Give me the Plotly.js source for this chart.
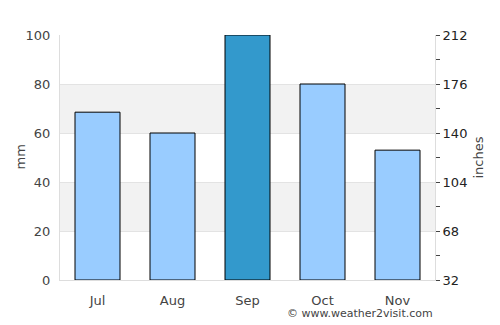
<!DOCTYPE html>
<html><head><meta charset="utf-8">
<script src="https://cdn.plot.ly/plotly-3.0.1.min.js"></script>
<style>html,body{margin:0;padding:0;background:#fff}#chart{width:500px;height:325px}</style>
</head><body><div id="chart"></div>
<script>
const months = ["Jul", "Aug", "Sep", "Oct", "Nov"];
const rainfallMm = [68.5, 60, 100, 80, 53];
const barColors = ["#99ccff", "#99ccff", "#3399cc", "#99ccff", "#99ccff"];
const leftTicks = [0, 20, 40, 60, 80, 100];
const rightTicks = [32, 68, 104, 140, 176, 212];

const font = {family: "DejaVu Sans, sans-serif", size: 13, color: "#444"};

const traces = [
  {type: "bar", x: months, y: rainfallMm,
   marker: {color: barColors, line: {color: "#000", width: 1}},
   hoverinfo: "none", showlegend: false},
  {type: "scatter", x: months, y: [32, 212, 32, 212, 32], yaxis: "y2",
   mode: "markers", marker: {opacity: 0}, hoverinfo: "none", showlegend: false}
];

const layout = {
  width: 500, height: 325,
  margin: {l: 60, r: 65, t: 35, b: 45},
  paper_bgcolor: "#fff", plot_bgcolor: "#fff",
  font: font,
  bargap: 0.4,
  xaxis: {type: "category", showline: true, linecolor: "#ddd", linewidth: 1,
          ticks: "outside", ticklen: 8, tickcolor: "rgba(0,0,0,0)",
          tickfont: {size: 13, color: "#444"}, fixedrange: true, mirror: false},
  yaxis: {range: [0, 100], tickvals: leftTicks, ticktext: leftTicks.map(String),
          showgrid: true, gridcolor: "#e3e3e3", zeroline: false,
          showline: true, linecolor: "#ddd", linewidth: 1,
          ticks: "outside", ticklen: 6, tickcolor: "rgba(0,0,0,0)",
          tickfont: {size: 13, color: "#444"}},
  yaxis2: {range: [32, 212], overlaying: "y", side: "right",
           tickvals: rightTicks, ticktext: rightTicks.map(String),
           showgrid: false, zeroline: false,
           showline: true, linecolor: "#ddd", linewidth: 1,
           ticks: "outside", ticklen: 4, tickcolor: "#444", tickwidth: 1,
           minor: {dtick: 18, tick0: 32, ticks: "outside", ticklen: 4, tickcolor: "#444", showgrid: false},
           title: {text: "inches", font: {size: 13, color: "#444"}, standoff: 7},
           tickfont: {size: 13, color: "#222"}},
  shapes: [
    {type: "rect", xref: "paper", yref: "y", x0: 0, x1: 1, y0: 20, y1: 40,
     fillcolor: "#f2f2f2", line: {width: 0}, layer: "below"},
    {type: "rect", xref: "paper", yref: "y", x0: 0, x1: 1, y0: 60, y1: 80,
     fillcolor: "#f2f2f2", line: {width: 0}, layer: "below"}
  ],
  annotations: [
    {text: "mm", xref: "paper", yref: "paper", x: 0, y: 0.5, xshift: -40,
     xanchor: "center", yanchor: "middle", textangle: -90, showarrow: false,
     font: {size: 13, color: "#444"}},
    {text: "© www.weather2visit.com", xref: "paper", yref: "paper",
     x: 1, y: 0, xanchor: "right", yanchor: "top", yshift: -25, showarrow: false,
     font: {size: 11, color: "#444"}}
  ]
};

Plotly.newPlot("chart", traces, layout, {displayModeBar: false, staticPlot: true});
</script></body></html>
